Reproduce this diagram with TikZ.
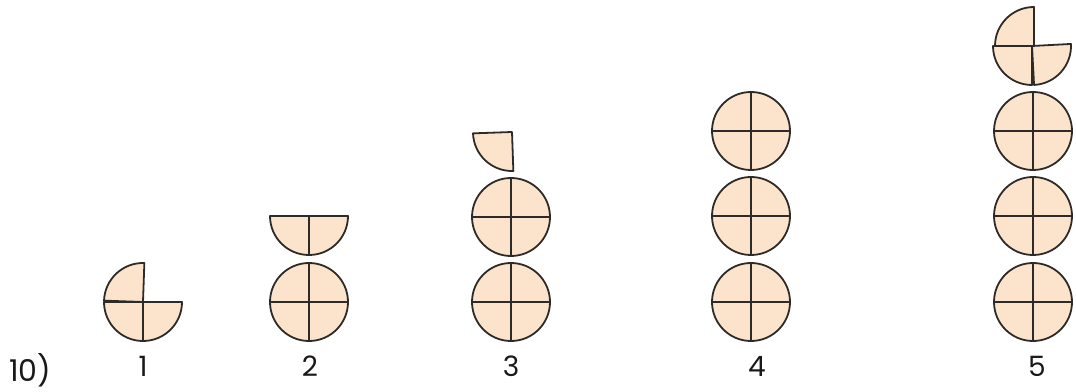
\documentclass[tikz,border=0pt]{standalone}
\usepackage{fontspec}
\setmainfont{Poppins}
\definecolor{piecefill}{HTML}{FCE4CC}
\definecolor{piecestroke}{HTML}{2E2A28}
\tikzset{
  piece/.style={fill=piecefill, draw=piecestroke, line width=1.8pt, line join=round},
  cross/.style={draw=piecestroke, line width=1.8pt},
  numlabel/.style={font=\fontsize{28}{32}\selectfont, text=black!90, inner sep=0pt}
}
\newcommand{\R}{39}
% quarter: corner x, corner y, start angle, rotation
\newcommand{\quarterpiece}[4]{%
  \filldraw[piece, rotate around={#4:(#1,#2)}] (#1,#2) -- ++(#3:\R) arc[start angle=#3, delta angle=90, radius=\R] -- cycle;}
% whole circle with cross
\newcommand{\wholepiece}[2]{%
  \filldraw[piece] (#1,#2) circle[radius=\R];
  \draw[cross] (#1-\R,#2) -- (#1+\R,#2);
  \draw[cross] (#1,#2-\R) -- (#1,#2+\R);}
\begin{document}
\begin{tikzpicture}[x=1pt,y=1pt]
\useasboundingbox (0,0) rectangle (1076,391);
% figure 1
\quarterpiece{143}{89}{180}{0}
\quarterpiece{143}{89}{270}{0}
\quarterpiece{143}{89}{90}{-2}
% figure 2
\wholepiece{309}{89}
\filldraw[piece] (270,175) arc[start angle=180, delta angle=180, radius=\R] -- cycle;
\draw[cross] (309,175) -- (309,136);
% figure 3
\wholepiece{511}{89}
\wholepiece{511}{174}
\quarterpiece{512}{259}{180}{2}
% figure 4
\wholepiece{751}{89}
\wholepiece{751}{175}
\wholepiece{751}{260}
% figure 5
\wholepiece{1033}{89}
\wholepiece{1033}{175}
\wholepiece{1033}{260}
\quarterpiece{1032}{345}{180}{0}
\quarterpiece{1032}{345}{270}{3}
\quarterpiece{1034}{345}{90}{0}
% labels
\node[numlabel] (l1) at (143,25) {1};
\node[numlabel] (l2) at (310,25) {2};
\node[numlabel] (l3) at (511,25) {3};
\node[numlabel] (l4) at (757,25) {4};
\node[numlabel] (l5) at (1037,25) {5};
\node[numlabel, anchor=west, font=\fontsize{30}{34}\selectfont] (l10) at (9,21) {10)};
\end{tikzpicture}
\end{document}
